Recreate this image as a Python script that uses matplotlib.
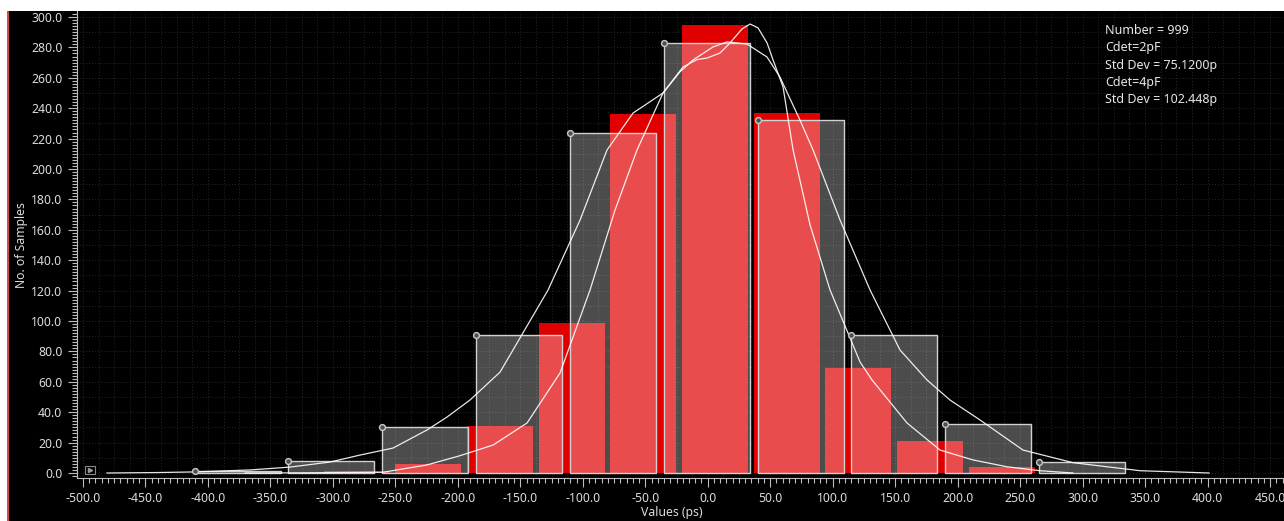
import matplotlib
matplotlib.use('Agg')
import matplotlib.pyplot as plt
from matplotlib.patches import Rectangle
from matplotlib.lines import Line2D
from matplotlib.ticker import MultipleLocator, FormatStrFormatter
import numpy as np

# ---------------- data ----------------
# Cdet=4pF series (grey bars, wider distribution)
gray_bin_start = [-410.7, -335.6, -260.5, -185.4, -110.3, -35.2, 39.9, 115.0, 190.1, 265.2]
gray_counts = [1, 8, 30, 91, 224, 283, 232, 91, 32, 7]
gray_bin_width = 75.1

# Cdet=2pF series (red bars, narrower distribution)
red_bin_start = [-307.3, -249.95, -192.6, -135.25, -77.9, -20.55, 36.8, 94.15, 151.5, 208.85]
red_counts = [1, 6, 31, 99, 236, 295, 237, 69, 21, 4]
red_bin_width = 57.35

# smoothed density curves (scaled to counts)
curve_gray_x = [-480.8, -440.0, -411.1, -366.3, -334.3, -302.3, -278.3, -251.9, -224.7, -208.7,
                -190.3, -166.2, -127.8, -102.2, -80.6, -59.8, -35.8, -22.4, -11.8, 4.2, 15.4, 31.4,
                47.4, 57.8, 73.8, 84.3, 105.9, 129.9, 153.9, 175.5, 193.9, 217.9, 252.3, 292.3, 346.0, 401.2]
curve_gray_y = [0.0, 0.3, 0.7, 2.0, 3.9, 7.2, 11.8, 16.4, 28.3, 36.8,
                48.0, 66.4, 120.4, 166.4, 212.5, 236.8, 250.0, 263.8, 271.7, 280.3, 283.6, 282.2,
                273.7, 260.5, 232.2, 212.5, 166.4, 120.4, 80.9, 61.2, 48.0, 34.9, 15.1, 6.8, 1.5, 0.0]

curve_red_x = [-370.3, -326.3, -294.3, -259.9, -224.7, -198.2, -171.8, -144.6, -118.2, -94.2,
               -74.2, -56.6, -35.8, -19.8, -8.6, -0.6, 9.8, 17.8, 27.4, 33.9, 40.3, 47.5, 52.3, 60.3, 68.3,
               81.9, 97.9, 121.9, 131.5, 159.5, 185.9, 212.3, 239.5, 265.9, 292.3]
curve_red_y = [0.0, 0.1, 0.3, 0.5, 5.3, 11.4, 18.4, 32.9, 65.8, 120.4,
               173.0, 212.5, 250.0, 267.1, 272.0, 273.0, 276.3, 282.9, 292.1, 295.4, 292.8, 282.9, 271.7, 253.9, 212.5,
               163.2, 120.4, 73.0, 61.2, 32.9, 15.1, 8.6, 4.1, 1.5, 0.0]

info_lines = ["Number = 999", "Cdet=2pF", "Std Dev = 75.1200p", "Cdet=4pF", "Std Dev = 102.448p"]

# ---------------- style ----------------
plt.rcParams['font.family'] = ['Noto Sans', 'DejaVu Sans']
plt.rcParams['axes.unicode_minus'] = False

W, H = 1284, 521
fig = plt.figure(figsize=(W / 100, H / 100), dpi=100, facecolor='white')
fig.patches.append(Rectangle((9 / W, 0), 1 - 9 / W, 510 / H, transform=fig.transFigure,
                             facecolor='black', edgecolor='none', zorder=-2))
fig.patches.append(Rectangle((6.5 / W, 0), 2.5 / W, 510 / H, transform=fig.transFigure,
                             facecolor='#d04a4a', edgecolor='none', zorder=-1))

ax = fig.add_axes([77 / W, 43.5 / H, 1207 / W, 466.5 / H])
ax.set_facecolor('black')
ax.set_xlim(-504.8, 461.2)
ax.set_ylim(-2.96, 303.95)
ax.set_axisbelow(True)

# grid (dotted)
for gx in np.arange(-500, 461, 12.5):
    ax.axvline(gx, color='#262626', lw=0.7, ls=(0, (1, 2)), zorder=0.5)
for gy in np.arange(0, 304, 10):
    ax.axhline(gy, color='#262626', lw=0.7, ls=(0, (1, 2)), zorder=0.5)

# bars
ax.bar(red_bin_start, red_counts, width=red_bin_width * 0.92, align='edge',
       color='#e00000', edgecolor='none', zorder=2)
ax.bar(gray_bin_start, gray_counts, width=gray_bin_width * 0.916, align='edge',
       facecolor=(1, 1, 1, 0.30), edgecolor=(0.82, 0.82, 0.82, 1.0), lw=1.0, zorder=3)

# curves
ax.plot(curve_gray_x, curve_gray_y, color='white', lw=0.9, alpha=0.9, zorder=4,
        solid_joinstyle='round')
ax.plot(curve_red_x, curve_red_y, color='white', lw=0.9, alpha=0.9, zorder=4,
        solid_joinstyle='round')

# markers at the top-left corner of grey bars
ax.plot(gray_bin_start, gray_counts, 'o', ms=4.2, mfc='#505050', mec='#c8c8c8', mew=1.0,
        zorder=5, clip_on=False)

# axes styling
ax.xaxis.set_major_locator(MultipleLocator(50))
ax.xaxis.set_minor_locator(MultipleLocator(5))
ax.yaxis.set_major_locator(MultipleLocator(20))
ax.yaxis.set_minor_locator(MultipleLocator(2))
ax.xaxis.set_major_formatter(FormatStrFormatter('%.1f'))
ax.yaxis.set_major_formatter(FormatStrFormatter('%.1f'))
ax.tick_params(which='both', colors='#bdbdbd', labelcolor='#dcdcdc', labelsize=8.8, width=0.8)
ax.tick_params(which='major', length=6.5, pad=4)
ax.tick_params(which='minor', length=3.5)
for s in ['top', 'right']:
    ax.spines[s].set_visible(False)
for s in ['left', 'bottom']:
    ax.spines[s].set_color('#bdbdbd')
    ax.spines[s].set_linewidth(0.8)

ax.set_xlabel('Values (ps)', color='#dcdcdc', fontsize=8.8)
ax.xaxis.set_label_coords((672 - 77) / 1207, (477.5 - 506) / 466.5)
ax.set_ylabel('No. of Samples', color='#dcdcdc', fontsize=8.8)
ax.yaxis.set_label_coords((28 - 77) / 1207, (477.5 - 245) / 466.5)

for i, line in enumerate(info_lines):
    fig.text(1105 / W, 1 - (30 + 17.5 * i) / H, line, va='center', ha='left',
             color='#e6e6e6', fontsize=9)

# small play icon in the bottom-left corner of the plot
fig.patches.append(Rectangle((85 / W, 1 - 474 / H), 10 / W, 8 / H, transform=fig.transFigure,
                             facecolor='black', edgecolor='#8a8a8a', lw=0.8, zorder=10))
fig.lines.append(Line2D([90.5 / W], [1 - 470 / H], marker='>', ms=3, color='#9a9a9a',
                        transform=fig.transFigure, zorder=11))

fig.savefig('out.png', dpi=100, facecolor=fig.get_facecolor())
